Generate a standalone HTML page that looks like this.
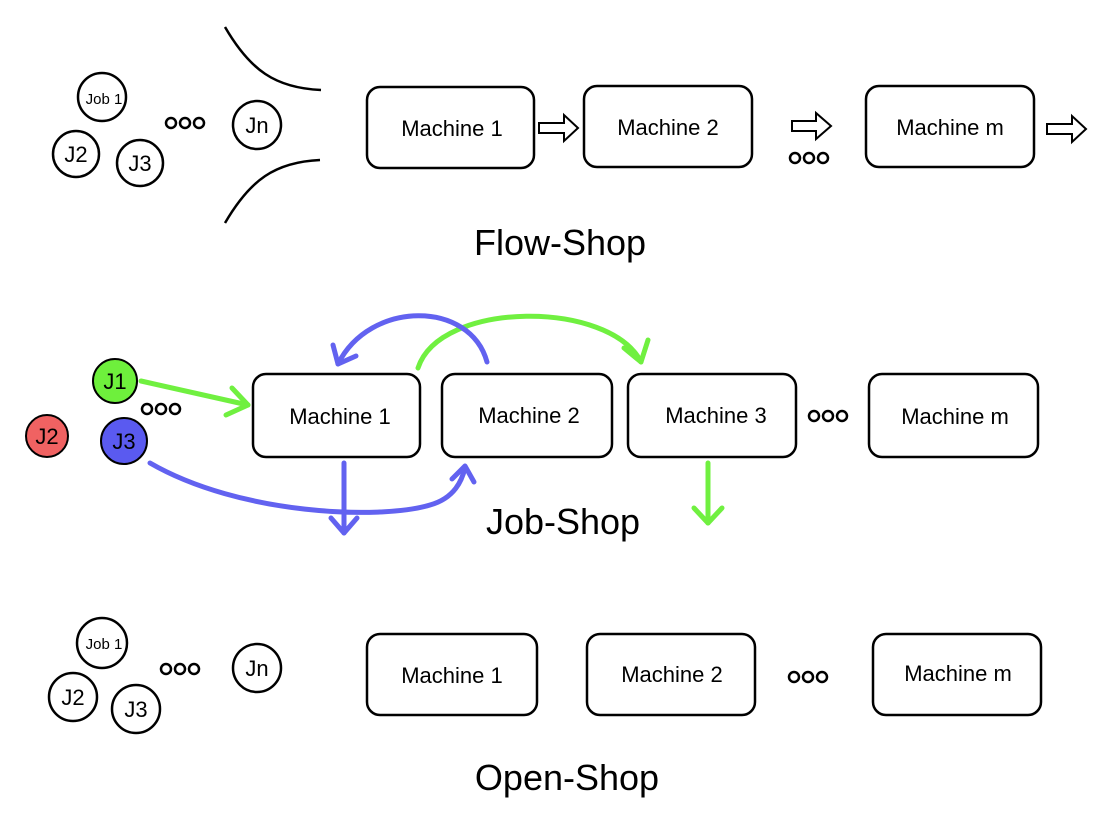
<!DOCTYPE html>
<html><head><meta charset="utf-8"><style>
html,body{margin:0;padding:0;background:#fff;}
svg{display:block;}
text{font-family:"Liberation Sans",sans-serif;fill:#000;}
</style></head><body>
<svg width="1099" height="819" viewBox="0 0 1099 819" xmlns="http://www.w3.org/2000/svg">
<defs>
<g id="dots"><circle cx="0" cy="0" r="5" fill="none" stroke="#000" stroke-width="2.5"/><circle cx="14" cy="0" r="5" fill="none" stroke="#000" stroke-width="2.5"/><circle cx="28" cy="0" r="5" fill="none" stroke="#000" stroke-width="2.5"/></g>
</defs>
<g fill="none" stroke="#000" stroke-width="2.5">
<circle cx="102" cy="97" r="24"/><circle cx="76" cy="154" r="23"/><circle cx="140" cy="163" r="23"/><circle cx="257" cy="125" r="24"/>
<path d="M225 27 C250 70 275 88 321 90"/>
<path d="M225 223 C250 180 275 162 320 160"/>
<rect x="367" y="87" width="167" height="81" rx="13"/>
<rect x="584" y="86" width="168" height="81" rx="13"/>
<rect x="866" y="86" width="168" height="81" rx="13"/>
<path d="M539 123 h25 v-8 l14 13 l-14 13 v-8 h-25 z" stroke-width="2"/>
<path d="M792 121 h24 v-8 l15 13 l-15 13 v-8 h-24 z" stroke-width="2"/>
<path d="M1047 124 h25 v-8 l14 13 l-14 13 v-8 h-25 z" stroke-width="2"/>
<rect x="253" y="374" width="167" height="83" rx="13"/>
<rect x="442" y="374" width="170" height="83" rx="13"/>
<rect x="628" y="374" width="168" height="83" rx="13"/>
<rect x="869" y="374" width="169" height="83" rx="13"/>
<circle cx="102" cy="643" r="25"/><circle cx="73" cy="697" r="24"/><circle cx="136" cy="709" r="24"/><circle cx="257" cy="668" r="24"/>
<rect x="367" y="634" width="170" height="81" rx="13"/>
<rect x="587" y="634" width="168" height="81" rx="13"/>
<rect x="873" y="634" width="168" height="81" rx="13"/>
</g>
<use href="#dots" x="171" y="123"/>
<use href="#dots" x="795" y="158"/>
<use href="#dots" x="147" y="409"/>
<use href="#dots" x="814" y="416"/>
<use href="#dots" x="166" y="669"/>
<use href="#dots" x="794" y="677"/>
<circle cx="115" cy="381" r="22" fill="#6ef03c" stroke="#000" stroke-width="2"/>
<circle cx="47" cy="436" r="21" fill="#f06262" stroke="#000" stroke-width="2"/>
<circle cx="124" cy="441" r="23" fill="#5a5af0" stroke="#000" stroke-width="2"/>
<g fill="none" stroke-width="5" stroke-linecap="round" stroke-linejoin="round">
<path d="M141 381 L248 405" stroke="#70f040"/>
<path d="M232 388 L248 405 L226 415" stroke="#70f040"/>
<path d="M418 368 C440 300 610 300 641 362" stroke="#70f040"/>
<path d="M624 348 L641 362 L648 340" stroke="#70f040"/>
<path d="M708 463 L708 523" stroke="#70f040"/>
<path d="M694 508 L708 523 L722 508" stroke="#70f040"/>
<path d="M487 362 C470 300 370 300 338 364" stroke="#6262f0"/>
<path d="M333 345 L338 364 L356 356" stroke="#6262f0"/>
<path d="M344 463 L344 533" stroke="#6262f0"/>
<path d="M331 518 L344 533 L357 518" stroke="#6262f0"/>
<path d="M150 463 C240 515 380 520 430 505 C455 498 462 480 465 468" stroke="#6262f0"/>
<path d="M452 479 L465 466 L474 482" stroke="#6262f0"/>
</g>
<text x="104" y="104" font-size="15" text-anchor="middle">Job 1</text>
<text x="76" y="162" font-size="22" text-anchor="middle">J2</text>
<text x="140" y="171" font-size="22" text-anchor="middle">J3</text>
<text x="257" y="133" font-size="22" text-anchor="middle">Jn</text>
<g font-size="22" text-anchor="middle">
<text x="452" y="136">Machine 1</text>
<text x="668" y="135">Machine 2</text>
<text x="950" y="135">Machine m</text>
<text x="340" y="424">Machine 1</text>
<text x="529" y="423">Machine 2</text>
<text x="716" y="423">Machine 3</text>
<text x="955" y="424">Machine m</text>
<text x="452" y="683">Machine 1</text>
<text x="672" y="682">Machine 2</text>
<text x="958" y="681">Machine m</text>
<text x="115" y="389">J1</text>
<text x="47" y="444">J2</text>
<text x="124" y="449">J3</text>
<text x="73" y="705">J2</text>
<text x="136" y="717">J3</text>
<text x="257" y="676">Jn</text>
</g>
<text x="104" y="649" font-size="15" text-anchor="middle">Job 1</text>
<g font-size="36" text-anchor="middle">
<text x="560" y="255">Flow-Shop</text>
<text x="563" y="534">Job-Shop</text>
<text x="567" y="790">Open-Shop</text>
</g>
</svg>
</body></html>
